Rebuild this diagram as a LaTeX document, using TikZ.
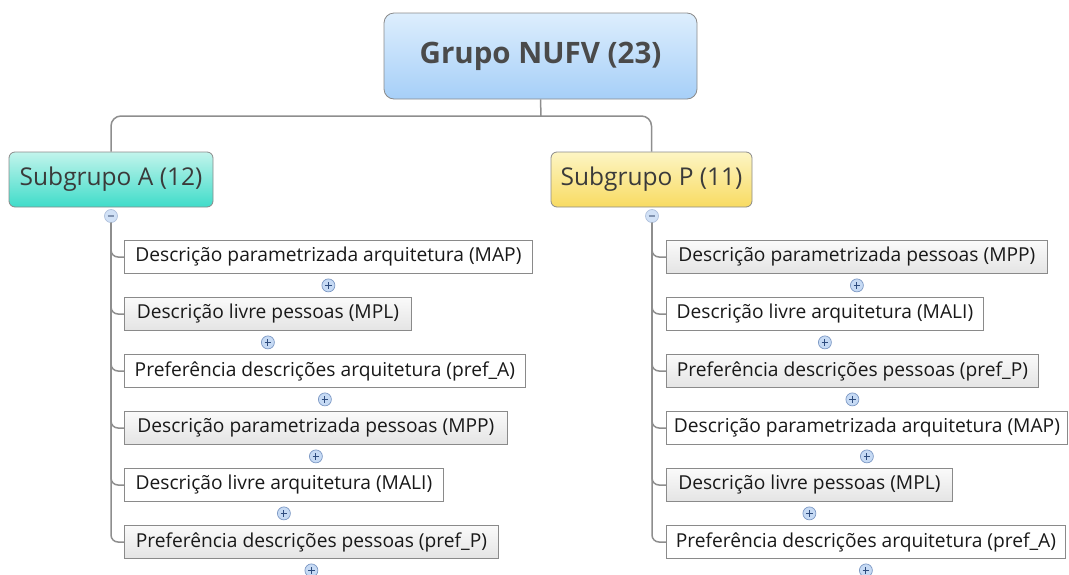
\documentclass[tikz,border=0pt]{standalone}
\usepackage{fontspec}
\setmainfont{Open Sans}
\definecolor{lineC}{HTML}{8E8E8E}
\definecolor{boxC}{HTML}{8A8A8A}
\definecolor{rootTop}{HTML}{DDEEFD}
\definecolor{rootBot}{HTML}{A6CFF8}
\definecolor{aTop}{HTML}{C2F4EC}
\definecolor{aBot}{HTML}{3FDCC9}
\definecolor{pTop}{HTML}{FDF5C4}
\definecolor{pBot}{HTML}{F8DB62}
\definecolor{txtC}{HTML}{3A3A3A}
\definecolor{rootTxt}{HTML}{4A4A4A}
\definecolor{circFill}{HTML}{C6DAF4}
\definecolor{circDraw}{HTML}{7C98C4}
\definecolor{signC}{HTML}{2E4C7E}
\definecolor{grayTop}{HTML}{FAFAFA}
\definecolor{grayBot}{HTML}{E4E4E4}
\begin{document}
\begin{tikzpicture}[x=1pt,y=-1pt,
  conn/.style={draw=lineC, line width=1.5pt},
  rootbox/.style={draw=boxC, line width=0.8pt, rounded corners=10pt, top color=rootTop, bottom color=rootBot,
    minimum width=313pt, minimum height=86pt, inner sep=0pt, text=rootTxt,
    font=\fontsize{29.5}{32}\selectfont\bfseries},
  subbox/.style={draw=boxC, line width=0.8pt, rounded corners=6pt,
    minimum height=55pt, inner sep=0pt, text=txtC, font=\fontsize{24.5}{28}\selectfont},
  leaf/.style={draw=boxC, line width=0.8pt, fill=white, minimum height=33pt, inner sep=0pt,
    anchor=west, text=black!90, font=\fontsize{19.2}{22}\selectfont},
  grayleaf/.style={leaf, top color=grayTop, bottom color=grayBot},
  togglecirc/.style={circle, draw=circDraw, fill=circFill, line width=0.7pt, minimum size=13pt, inner sep=0pt},
  plus/.style={togglecirc, path picture={
    \draw[signC, line width=1.1pt] ([xshift=-3.4pt]path picture bounding box.center) -- ([xshift=3.4pt]path picture bounding box.center)
      ([yshift=-3.4pt]path picture bounding box.center) -- ([yshift=3.4pt]path picture bounding box.center);}},
  minus/.style={togglecirc, draw=circDraw!60, fill=circFill!80, path picture={
    \draw[signC!60, line width=1.1pt] ([xshift=-3.4pt]path picture bounding box.center) -- ([xshift=3.4pt]path picture bounding box.center);}}
]
\useasboundingbox (0,0) rectangle (1069,574);

% root
\node[rootbox] (root) at (540.5,56) {Grupo NUFV (23)};
\node[subbox, minimum width=204pt, top color=aTop, bottom color=aBot] (sa) at (111,179.5) {Subgrupo A (12)};
\node[subbox, minimum width=201pt, top color=pTop, bottom color=pBot] (sp) at (651.5,179.5) {Subgrupo P (11)};

\coordinate (j) at (541,116);
\draw[conn] (root.south) -- (j);
\draw[conn, rounded corners=10pt] (j) -| (sa.north);
\draw[conn, rounded corners=10pt] (j) -| (sp.north);

% toggles under subgroups
\node[minus] (ma) at (111,216) {};
\node[minus] (mp) at (652,216) {};

% subgroup A leaves
\node[leaf, minimum width=408pt] (a1) at (124,257) {Descrição parametrizada arquitetura (MAP)};
\node[grayleaf, minimum width=287pt] (a2) at (124,314) {Descrição livre pessoas (MPL)};
\node[leaf, minimum width=401pt] (a3) at (124,371) {Preferência descrições arquitetura (pref\_A)};
\node[grayleaf, minimum width=383pt] (a4) at (124,428) {Descrição parametrizada pessoas (MPP)};
\node[leaf, minimum width=319pt] (a5) at (124,485) {Descrição livre arquitetura (MALI)};
\node[grayleaf, minimum width=374pt] (a6) at (124,542) {Preferência descrições pessoas (pref\_P)};

% subgroup P leaves
\node[grayleaf, minimum width=381pt] (p1) at (666,257) {Descrição parametrizada pessoas (MPP)};
\node[leaf, minimum width=317pt] (p2) at (666,314) {Descrição livre arquitetura (MALI)};
\node[grayleaf, minimum width=372pt] (p3) at (666,371) {Preferência descrições pessoas (pref\_P)};
\node[leaf, minimum width=401pt] (p4) at (666,428) {Descrição parametrizada arquitetura (MAP)};
\node[grayleaf, minimum width=286pt] (p5) at (666,485) {Descrição livre pessoas (MPL)};
\node[leaf, minimum width=399pt] (p6) at (666,542) {Preferência descrições arquitetura (pref\_A)};

% branches
\foreach \n in {a6,a5,a4,a3,a2,a1} {
  \draw[conn, rounded corners=7pt] (ma.south) |- (\n.west);
}
\foreach \n in {p6,p5,p4,p3,p2,p1} {
  \draw[conn, rounded corners=7pt] (mp.south) |- (\n.west);
}

% plus toggles
\foreach \n in {a1,a2,a3,a4,a5,a6,p1,p2,p3,p4,p5,p6} {
  \node[plus] (plus\n) at ([yshift=-11.5pt]\n.south) {};
}
\end{tikzpicture}
\end{document}
